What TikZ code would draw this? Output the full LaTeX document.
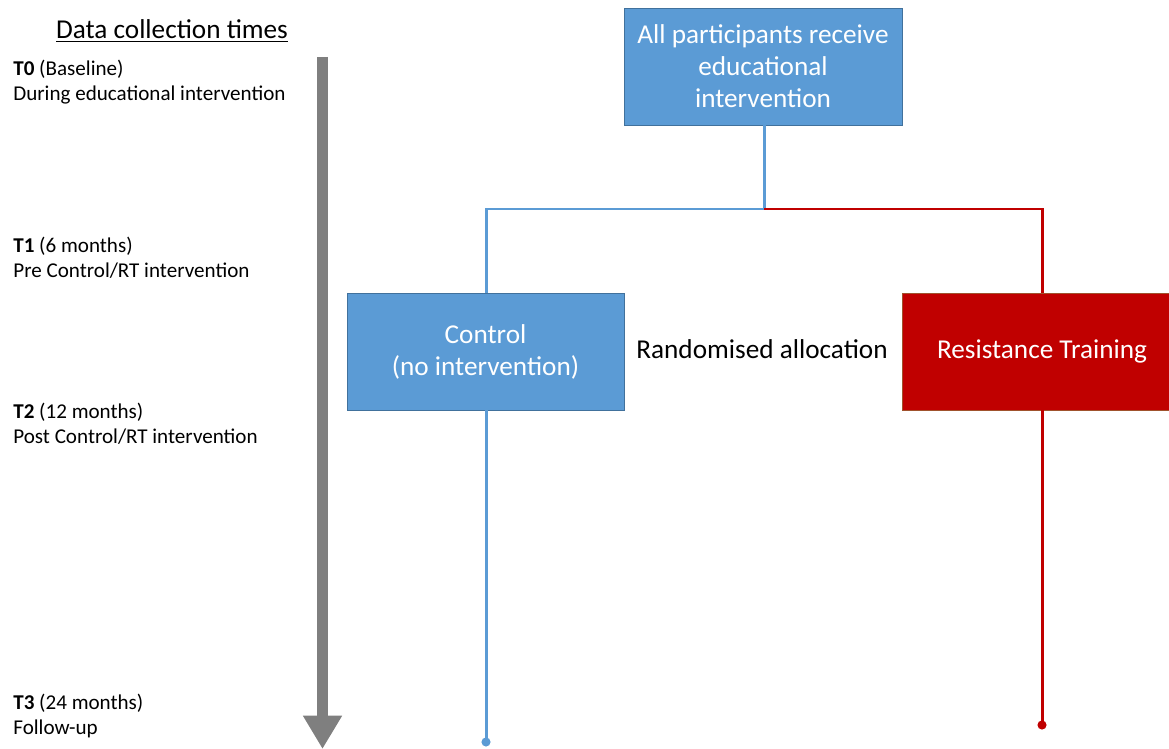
\documentclass[tikz,border=0pt]{standalone}
\usepackage{fontspec}
\setmainfont{Carlito}
\usetikzlibrary{arrows.meta}
\definecolor{eduBlue}{HTML}{5B9BD5}
\definecolor{eduEdge}{HTML}{41719C}
\definecolor{rtRed}{HTML}{C00000}
\definecolor{rtEdge}{HTML}{A0522D}
\definecolor{timeGray}{HTML}{7F7F7F}
\tikzstyle{armBox} = [draw, rectangle, line width=0.5pt, text=white, align=center,
   inner sep=0pt, font=\fontsize{15.5}{18.2}\selectfont]
\tikzstyle{timeLabel} = [anchor=west, align=left, inner sep=0pt,
   font=\fontsize{12}{14.2}\selectfont]
\tikzstyle{armLine} = [line width=1.7pt]

\begin{document}
\begin{tikzpicture}[x=0.02cm, y=-0.02cm]
  \useasboundingbox (0,0) rectangle (1169,749);

  % time axis
  \node[font=\fontsize{15.5}{18}\selectfont, inner sep=0pt] (title) at (172,31) {\underline{Data collection times}};
  \node[timeLabel] (t0) at (13,82) {\textbf{T0} (Baseline)\\During educational intervention};
  \node[timeLabel] (t1) at (13,258) {\textbf{T1} (6 months)\\Pre Control/RT intervention};
  \node[timeLabel] (t2) at (13,424) {\textbf{T2} (12 months)\\Post Control/RT intervention};
  \node[timeLabel] (t3) at (13,716) {\textbf{T3} (24 months)\\Follow-up};
  \coordinate (axisTop) at (322.5,57);
  \coordinate (axisEnd) at (322.5,749);
  \draw[timeGray, line width=6.2pt, -{Triangle[width=21pt,length=19pt]}] (axisTop) -- (axisEnd);

  % boxes
  \node[armBox, fill=eduBlue, draw=eduEdge, minimum width=278*0.02cm, minimum height=117*0.02cm] (edu) at (763,66.5)
    {All participants receive\\educational\\intervention};
  \node[armBox, fill=eduBlue, draw=eduEdge, minimum width=277*0.02cm, minimum height=117*0.02cm] (ctrl) at (485.5,351.5)
    {Control\\(no intervention)};
  \node[armBox, fill=rtRed, draw=rtEdge, minimum width=280*0.02cm, minimum height=117*0.02cm] (rt) at (1042,351.5)
    {Resistance Training};
  \node[font=\fontsize{15.5}{18}\selectfont, inner sep=0pt] (alloc) at (762,349) {Randomised allocation};

  % branches
  \coordinate (split) at (764,209);
  \coordinate (ctrlEnd) at (486,742);
  \coordinate (rtEnd) at (1042,725);
  \draw[armLine, eduBlue] (edu.south -| split) -- (split) -| (ctrl.north -| ctrlEnd);
  \draw[armLine, rtRed] (split) -| (rt.north -| rtEnd);
  \draw[armLine, eduBlue] (ctrl.south -| ctrlEnd) -- (ctrlEnd);
  \draw[armLine, rtRed] (rt.south -| rtEnd) -- (rtEnd);
  \fill[eduBlue] (ctrlEnd) circle (2.6pt);
  \fill[rtRed] (rtEnd) circle (2.6pt);
\end{tikzpicture}
\end{document}
